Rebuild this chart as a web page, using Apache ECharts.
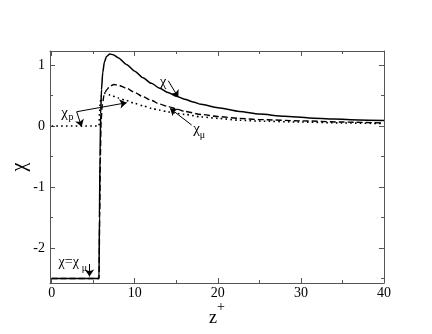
<!DOCTYPE html>
<html><head><meta charset="utf-8">
<script src="https://cdn.jsdelivr.net/npm/echarts@6/dist/echarts.min.js"></script>
<style>html,body{margin:0;padding:0;background:#fff}#c{width:432px;height:334px}</style>
</head><body><div id="c"></div>
<script>
// ---- data ----
const chiX  = [0,5.7,5.75,5.82,5.9,6.0,6.15,6.35,6.6,7.0,7.4,8,9,10,11,12,13,14,15,16,17,18,20,22.6,25,28,31,34,37,40];
const chiY  = [-2.5,-2.5,-1.5,-0.5,0.2,0.6,0.88,1.05,1.14,1.18,1.17,1.12,1.01,0.9,0.79,0.7,0.62,0.55,0.49,0.44,0.395,0.355,0.3,0.24,0.195,0.16,0.133,0.113,0.1,0.09];
const chiMuX = [0,5.7,5.78,5.86,5.95,6.1,6.3,6.6,7.0,7.5,8,9,10,11,12,13,14,15,16,18,20,22.6,25,30,35,40];
const chiMuY = [-2.5,-2.5,-1.5,-0.5,0.1,0.35,0.5,0.59,0.65,0.68,0.67,0.62,0.55,0.48,0.42,0.36,0.32,0.28,0.24,0.19,0.155,0.125,0.105,0.085,0.065,0.05];
const chiPX = [0,5.7,5.76,5.85,6.0,6.3,7,8,9,10,11,12,13,14,16,18,20,22.6,25,30,35,40];
const chiPY = [0,0,0.2,0.4,0.5,0.54,0.51,0.46,0.42,0.37,0.33,0.29,0.26,0.23,0.19,0.15,0.125,0.095,0.08,0.065,0.05,0.04];
const xMajor = [0,10,20,30,40];
const xMinor = [5,15,25,35];
const yMajor = [-2,-1,0,1];
const yMinor = [-2.5,-1.5,-0.5,0.5];
// annotation texts: [x, y, text, size]
const texts = [
  [13.4, 0.72, 'χ', 15],
  [1.56, 0.208, 'χ', 15], [2.33, 0.139, 'p', 10],
  [17.45, -0.046, 'χ', 15], [18.15, -0.148, 'μ', 10],
  [2.05, -2.238, 'χ=χ', 14], [3.95, -2.328, 'μ', 10]
];
// annotation arrows: [x0, y0, x1, y1]
const arrows = [
  [14.03, 0.743, 15.24, 0.47],
  [16.85, 0.016, 14.24, 0.29],
  [3.01, 0.234, 9.03, 0.382],
  [3.01, 0.234, 3.61, -0.011],
  [4.55, -2.262, 4.55, -2.467]
];
const XMIN = -0.2, XMAX = 40, YMIN = -2.574, YMAX = 1.23;

const pairs = (xs, ys) => xs.map((x, i) => [x, ys[i]]);
const FRAME = '#555';
const FONT = 'Liberation Serif';

function xAx(pos, vals, len, line, labels) {
  return {type:'value', position:pos, min:XMIN, max:XMAX,
    axisLine:{show:line, onZero:false, lineStyle:{color:FRAME, width:1}},
    axisTick:{show:true, inside:true, length:len, customValues:vals, lineStyle:{color:FRAME, width:1}},
    axisLabel:{show:labels, customValues:vals, color:'#000', fontFamily:FONT, fontSize:14, margin:3},
    splitLine:{show:false}};
}
function yAx(pos, vals, len, line, labels) {
  return {type:'value', position:pos, min:YMIN, max:YMAX,
    axisLine:{show:line, onZero:false, lineStyle:{color:FRAME, width:1}},
    axisTick:{show:true, inside:true, length:len, customValues:vals, lineStyle:{color:FRAME, width:1}},
    axisLabel:{show:labels, customValues:vals, color:'#000', fontFamily:FONT, fontSize:14, margin:5},
    splitLine:{show:false}};
}

const chart = echarts.init(document.getElementById('c'), null, {renderer:'canvas'});
const yMain = yAx('left', yMajor, 5, true, true);
yMain.name = 'χ'; yMain.nameLocation = 'middle'; yMain.nameGap = 20; yMain.nameRotate = 90;
yMain.nameMoveOverlap = false;
yMain.nameTextStyle = {fontFamily:FONT, fontSize:20, color:'#000'};

chart.setOption({
  animation:false,
  backgroundColor:'#fff',
  grid:{left:50, right:48, top:51, bottom:51, containLabel:false, outerBoundsMode:'none'},
  xAxis:[xAx('bottom', xMajor, 5, true, true), xAx('bottom', xMinor, 3, false, false),
         xAx('top', xMajor, 5, true, false), xAx('top', xMinor, 3, false, false)],
  yAxis:[yMain, yAx('left', yMinor, 3, false, false),
         yAx('right', yMajor, 5, true, false), yAx('right', yMinor, 3, false, false)],
  series:[
    {type:'line', name:'chi_p', data:pairs(chiPX, chiPY), showSymbol:false, z:2,
     smooth:0.25, smoothMonotone:'x',
     lineStyle:{color:'#000', width:1.6, type:[1.6,3.2]}},
    {type:'line', name:'chi_mu', data:pairs(chiMuX, chiMuY), showSymbol:false, z:3,
     smooth:0.25, smoothMonotone:'x',
     lineStyle:{color:'#000', width:1.4, type:[6,3]}},
    {type:'line', name:'chi', data:pairs(chiX, chiY), showSymbol:false, z:4,
     smooth:0.25, smoothMonotone:'x',
     lineStyle:{color:'#000', width:1.5}},
    {type:'line', name:'arrows', data:[], z:5,
     markLine:{silent:true, symbol:['none','arrow'], symbolSize:7, animation:false,
       label:{show:false}, lineStyle:{color:'#000', width:1, type:'solid'},
       data: arrows.map(a => [{coord:[a[0], a[1]]}, {coord:[a[2], a[3]]}])}}
  ]
});

const gfx = texts.map(t => {
  const p = chart.convertToPixel({xAxisIndex:0, yAxisIndex:0}, [t[0], t[1]]);
  return {type:'text', x:p[0], y:p[1], z:10,
    style:{text:t[2], fontFamily:FONT, fontSize:t[3], fill:'#000',
      align:'center', verticalAlign:'middle', textAlign:'center', textVerticalAlign:'middle'}};
});
gfx.push({type:'text', x:213, y:318, style:{text:'z', fontFamily:FONT, fontSize:18, fill:'#000', align:'center', verticalAlign:'middle', textAlign:'center', textVerticalAlign:'middle'}});
gfx.push({type:'text', x:221, y:307, style:{text:'+', fontFamily:FONT, fontSize:14, fill:'#000', align:'center', verticalAlign:'middle', textAlign:'center', textVerticalAlign:'middle'}});
chart.setOption({graphic:gfx});
</script>
</body></html>
